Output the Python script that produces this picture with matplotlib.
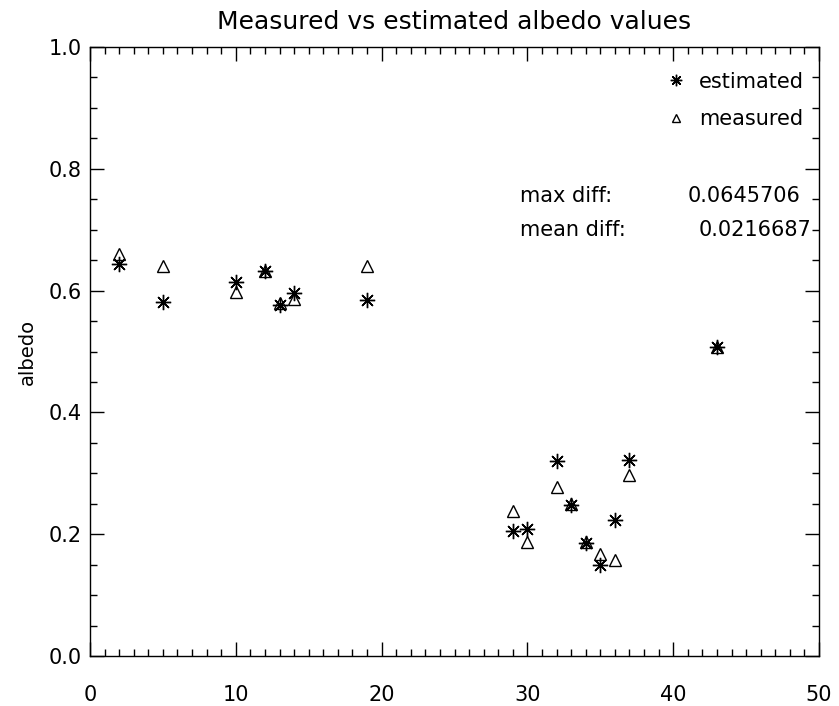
import numpy as np
import matplotlib
matplotlib.use("Agg")
import matplotlib.pyplot as plt
from matplotlib.ticker import MultipleLocator, FormatStrFormatter

# data
x_vals = [2, 5, 10, 12, 13, 14, 19, 29, 30, 32, 33, 34, 35, 36, 37, 43]
estimated = [0.644, 0.582, 0.614, 0.632, 0.577, 0.596, 0.584,
             0.205, 0.208, 0.320, 0.248, 0.186, 0.150, 0.223, 0.322, 0.507]
measured = [0.660, 0.641, 0.597, 0.633, 0.579, 0.586, 0.641,
            0.238, 0.187, 0.277, 0.249, 0.188, 0.168, 0.157, 0.297, 0.508]
max_diff = "0.0645706"
mean_diff = "0.0216687"

plt.rcParams["font.family"] = ["DejaVu Sans"]

fig = plt.figure(figsize=(8.39, 7.06), dpi=100)
ax = fig.add_axes([90 / 839, 50 / 706, 729 / 839, 609 / 706])

ax.plot(x_vals, estimated, linestyle="none", marker=(8, 2, 0), markersize=11,
        color="black", markeredgewidth=1.0, label="estimated")
ax.plot(x_vals, measured, linestyle="none", marker="^", markersize=8,
        markerfacecolor="none", markeredgecolor="black", markeredgewidth=1.0,
        label="measured")

ax.set_xlim(0, 50)
ax.set_ylim(0, 1.0)
ax.xaxis.set_major_locator(MultipleLocator(10))
ax.xaxis.set_minor_locator(MultipleLocator(1))
ax.yaxis.set_major_locator(MultipleLocator(0.2))
ax.yaxis.set_minor_locator(MultipleLocator(0.05))
ax.yaxis.set_major_formatter(FormatStrFormatter("%.1f"))
ax.tick_params(which="both", direction="in", top=True, right=True,
               labelsize=15, colors="black")
ax.tick_params(which="major", length=10, width=1)
ax.tick_params(which="minor", length=5, width=1)
ax.tick_params(axis="x", which="major", pad=21)
ax.tick_params(axis="y", which="major", pad=6)
for s in ax.spines.values():
    s.set_linewidth(1)

ax.set_title("Measured vs estimated albedo values", fontsize=18, pad=13)
ax.set_ylabel("albedo", fontsize=14, labelpad=8)

ax.legend(loc="upper right", bbox_to_anchor=(0.991, 0.973), frameon=False,
          fontsize=15, handletextpad=0.6, labelspacing=0.85, markerscale=0.75,
          borderaxespad=0.0, handlelength=1.0)

ax.text(0.590, 0.755, "max diff:", transform=ax.transAxes, fontsize=15, va="center")
ax.text(0.975, 0.755, max_diff, transform=ax.transAxes, fontsize=15, va="center", ha="right")
ax.text(0.590, 0.700, "mean diff:", transform=ax.transAxes, fontsize=15, va="center")
ax.text(0.990, 0.700, mean_diff, transform=ax.transAxes, fontsize=15, va="center", ha="right")

fig.savefig("out.png", dpi=100)
